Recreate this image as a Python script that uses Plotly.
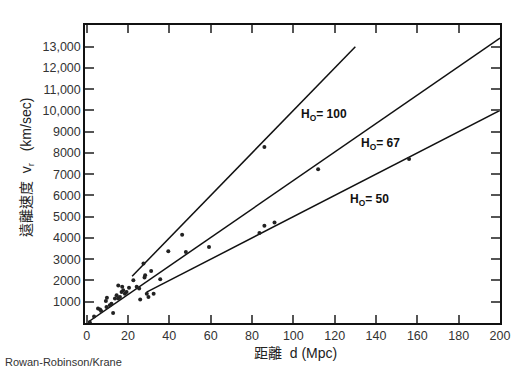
import plotly.graph_objects as go

# Galaxy data (distance in Mpc, recession velocity in km/s)
dist_mpc = [1.5, 3.6, 5.5, 6.5, 7.0, 9.6, 9.8, 9.3, 12.8, 11.2, 12.0, 14.5, 13.7, 15.3, 16.1,
            15.3, 17.2, 17.7, 18.5, 19.3, 16.9, 22.6, 24.2, 25.4, 20.5, 25.9, 27.5, 28.3,
            28.0, 31.2, 29.1, 29.9, 32.4, 35.6, 39.5, 46.2, 48.0, 59.2, 83.6, 86.0, 90.9,
            112.0, 156.0, 86.0]
vel_kms = [30, 310, 680, 630, 560, 750, 1190, 1040, 470, 830, 910, 1300, 1150, 1150, 1220,
           1770, 1700, 1540, 1380, 1460, 1460, 2010, 1700, 1620, 1660, 1100, 2800, 2250,
           2140, 2450, 1380, 1220, 1380, 2060, 3370, 4150, 3340, 3580, 4240, 4570, 4730,
           7230, 7710, 8280]

# Hubble lines (endpoints)
line_names = ["100", "67", "50"]
line_d = [[22, 130], [0, 200], [29, 200]]
line_v = [[2200, 13000], [0, 13400], [1450, 10000]]
label_d = [102.7, 131.8, 126.5]
label_v = [9780, 8420, 5780]

x_ticks = [0, 20, 40, 60, 80, 100, 120, 140, 160, 180, 200]
x_ticktext = ["0", "20", "40", "60", "80", "100", "120", "140", "160", "180", "200"]
y_ticks = [1000, 2000, 3000, 4000, 5000, 6000, 7000, 8000, 9000, 10000, 11000, 12000, 13000]
y_ticktext = ["1000", "2000", "3000", "4000", "5000", "6000", "7000", "8000", "9000",
              "10,000", "11,000", "12,000", "13,000"]

fig = go.Figure()
for name, dd, vv in zip(line_names, line_d, line_v):
    fig.add_trace(go.Scatter(x=dd, y=vv, mode="lines", line=dict(color="#111", width=1.5),
                             showlegend=False, hoverinfo="skip"))
fig.add_trace(go.Scatter(x=dist_mpc, y=vel_kms, mode="markers",
                         marker=dict(color="#222", size=4), showlegend=False, cliponaxis=False))

for name, xd, yv in zip(line_names, label_d, label_v):
    fig.add_annotation(x=xd, y=yv, xref="x", yref="y", xanchor="left", yanchor="middle",
                       text="<b>H<sub>O</sub>= " + name + "</b>", showarrow=False,
                       font=dict(family="Liberation Sans, Arial", size=12, color="#111"))

font_main = "Liberation Sans, Arial, Noto Sans CJK TC"
fig.add_annotation(x=-0.14, y=0.523, xref="paper", yref="paper", textangle=-90,
                   text="遠離速度  v<sub>r</sub>   (km/sec)", showarrow=False,
                   xanchor="center", yanchor="middle",
                   font=dict(family=font_main, size=14, color="#222"))
fig.add_annotation(x=0.508, y=0, xref="paper", yref="paper", yshift=-30,
                   text="距離  d (Mpc)", showarrow=False, xanchor="center", yanchor="middle",
                   font=dict(family=font_main, size=14, color="#222"))
fig.add_annotation(x=-82 / 415, y=-(362 - 322.7) / 297.7, xref="paper", yref="paper",
                   text="Rowan-Robinson/Krane", showarrow=False, xanchor="left", yanchor="middle",
                   font=dict(family="Liberation Sans, Arial", size=11, color="#333"))

fig.update_xaxes(range=[-0.8, 200], tickvals=x_ticks, ticktext=x_ticktext,
                 ticks="inside", ticklen=8, tickwidth=1.5, tickcolor="#555",
                 showline=True, linecolor="#111", linewidth=1.5, mirror="ticks",
                 showgrid=False, zeroline=False,
                 tickfont=dict(family="Liberation Sans, Arial", size=12.5, color="#333"))
fig.update_yaxes(range=[0, 14020], tickvals=y_ticks, ticktext=y_ticktext,
                 ticks="inside", ticklen=9, tickwidth=1.5, tickcolor="#555",
                 showline=True, linecolor="#111", linewidth=1.5, mirror="ticks",
                 showgrid=False, zeroline=False,
                 tickfont=dict(family="Liberation Sans, Arial", size=12.5, color="#333"))

fig.update_layout(width=532, height=368, margin=dict(l=85, r=32, t=25, b=45),
                  paper_bgcolor="white", plot_bgcolor="white")
fig.write_html("out.html", config={"displayModeBar": False},
               post_script="document.body.style.margin='0';document.body.style.padding='0';")
